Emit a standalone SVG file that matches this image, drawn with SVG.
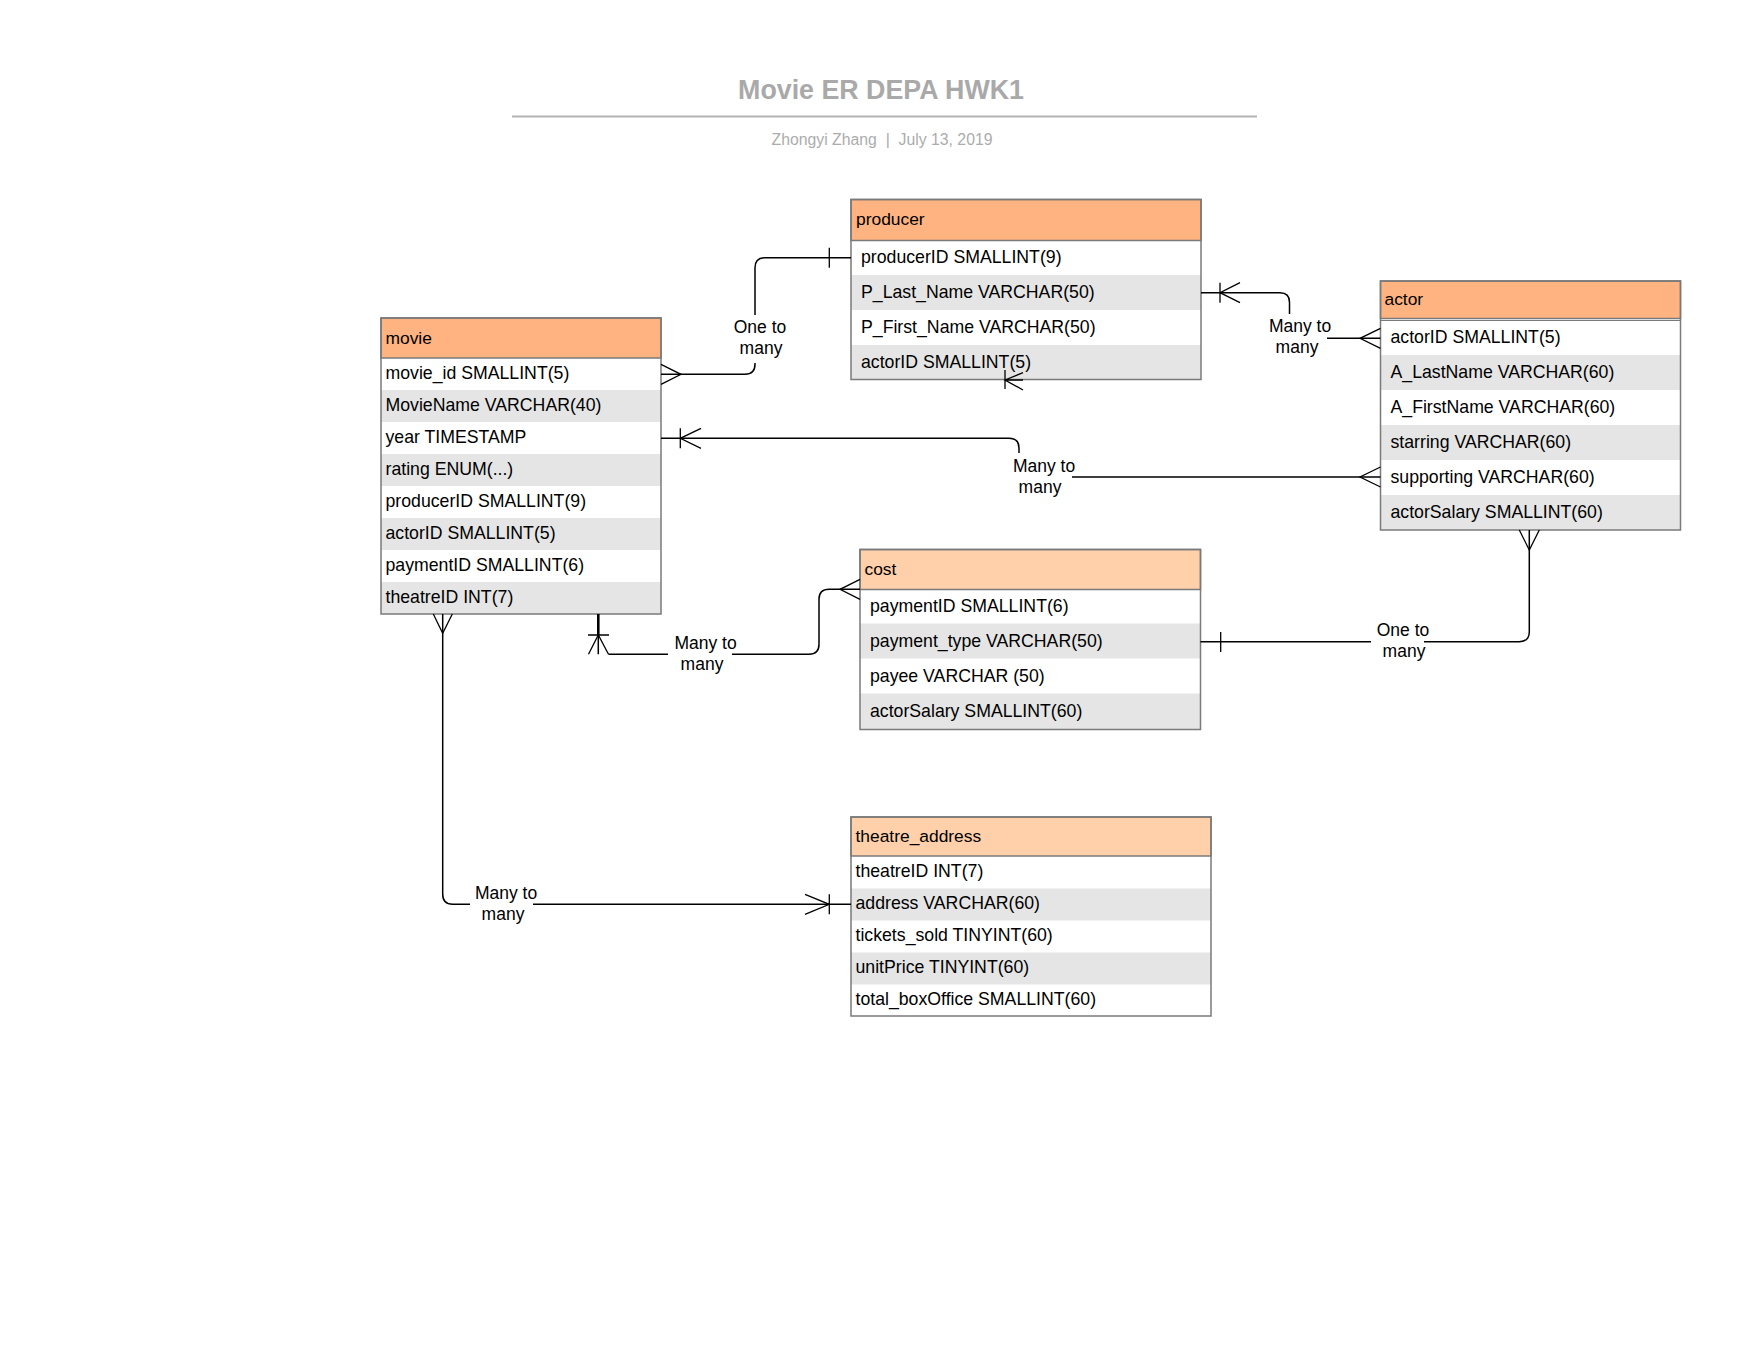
<svg xmlns="http://www.w3.org/2000/svg" width="1758" height="1358" viewBox="0 0 1758 1358">
  <style>
    text { font-family: "Liberation Sans", Arial, sans-serif; fill: #000; }
    .title { font-size: 26.8px; font-weight: bold; fill: #a9a9a9; text-anchor: middle; }
    .sub { font-size: 15.8px; fill: #acacac; text-anchor: middle; }
    .box { fill: none; stroke: #7a7a7a; stroke-width: 1.5; }
    .hdr { fill: #ffb380; stroke: #7a7a7a; stroke-width: 1.5; }
    .hdr2 { fill: #ffd0aa; stroke: #7a7a7a; stroke-width: 1.5; }
    .alt { fill: #e5e5e5; }
    .wht { fill: #ffffff; }
    .h { font-size: 17.4px; }
    .f { font-size: 17.7px; }
    .lbl { font-size: 17.5px; text-anchor: middle; }
    .bg { fill: #ffffff; }
    .ln { fill: none; stroke: #000; stroke-width: 1.5; }
    .mk { fill: none; stroke: #000; stroke-width: 1.3; }
  </style>

  <!-- page heading -->
  <g id="heading">
    <text class="title" x="881" y="99">Movie ER DEPA HWK1</text>
    <line x1="512" y1="116.5" x2="1257" y2="116.5" stroke="#b3b3b3" stroke-width="2"/>
    <text class="sub" x="882" y="145" xml:space="preserve">Zhongyi Zhang  |  July 13, 2019</text>
  </g>

  <!-- movie table -->
  <g id="movie">
    <rect class="wht" x="381" y="358" width="280" height="256"/>
    <rect class="alt" x="381" y="390" width="280" height="32"/>
    <rect class="alt" x="381" y="454" width="280" height="32"/>
    <rect class="alt" x="381" y="518" width="280" height="32"/>
    <rect class="alt" x="381" y="582" width="280" height="32"/>
    <rect class="hdr" x="381" y="318" width="280" height="40"/>
    <rect class="box" x="381" y="318" width="280" height="296"/>
    <text class="h" x="385.5" y="344">movie</text>
    <text class="f" x="385.5" y="378.5">movie_id SMALLINT(5)</text>
    <text class="f" x="385.5" y="410.5">MovieName VARCHAR(40)</text>
    <text class="f" x="385.5" y="442.5">year TIMESTAMP</text>
    <text class="f" x="385.5" y="474.5">rating ENUM(...)</text>
    <text class="f" x="385.5" y="506.5">producerID SMALLINT(9)</text>
    <text class="f" x="385.5" y="538.5">actorID SMALLINT(5)</text>
    <text class="f" x="385.5" y="570.5">paymentID SMALLINT(6)</text>
    <text class="f" x="385.5" y="602.5">theatreID INT(7)</text>
  </g>

  <!-- producer table -->
  <g id="producer">
    <rect class="wht" x="851" y="240.5" width="350" height="139"/>
    <rect class="alt" x="851" y="275" width="350" height="35"/>
    <rect class="alt" x="851" y="345" width="350" height="34.5"/>
    <rect class="hdr" x="851" y="199.5" width="350" height="41"/>
    <rect class="box" x="851" y="199.5" width="350" height="180"/>
    <text class="h" x="856" y="225">producer</text>
    <text class="f" x="861" y="262.5">producerID SMALLINT(9)</text>
    <text class="f" x="861" y="297.5">P_Last_Name VARCHAR(50)</text>
    <text class="f" x="861" y="332.5">P_First_Name VARCHAR(50)</text>
    <text class="f" x="861" y="367.5">actorID SMALLINT(5)</text>
  </g>

  <!-- actor table -->
  <g id="actor">
    <rect class="wht" x="1380.5" y="318.5" width="300" height="211.5"/>
    <rect class="alt" x="1380.5" y="355" width="300" height="35"/>
    <rect class="alt" x="1380.5" y="425" width="300" height="35"/>
    <rect class="alt" x="1380.5" y="495" width="300" height="35"/>
    <rect class="hdr" x="1380.5" y="281" width="300" height="37.5"/>
    <line x1="1380.5" y1="320.5" x2="1680.5" y2="320.5" stroke="#7a7a7a" stroke-width="1"/>
    <rect class="box" x="1380.5" y="281" width="300" height="249"/>
    <text class="h" x="1384.5" y="305">actor</text>
    <text class="f" x="1390.5" y="343">actorID SMALLINT(5)</text>
    <text class="f" x="1390.5" y="378">A_LastName VARCHAR(60)</text>
    <text class="f" x="1390.5" y="413">A_FirstName VARCHAR(60)</text>
    <text class="f" x="1390.5" y="448">starring VARCHAR(60)</text>
    <text class="f" x="1390.5" y="483">supporting VARCHAR(60)</text>
    <text class="f" x="1390.5" y="518">actorSalary SMALLINT(60)</text>
  </g>

  <!-- cost table -->
  <g id="cost">
    <rect class="wht" x="860" y="589.5" width="340.5" height="140"/>
    <rect class="alt" x="860" y="623.5" width="340.5" height="35"/>
    <rect class="alt" x="860" y="693.5" width="340.5" height="36"/>
    <rect class="hdr2" x="860" y="549.5" width="340.5" height="40"/>
    <rect class="box" x="860" y="549.5" width="340.5" height="180"/>
    <text class="h" x="864.5" y="575">cost</text>
    <text class="f" x="870" y="612">paymentID SMALLINT(6)</text>
    <text class="f" x="870" y="647">payment_type VARCHAR(50)</text>
    <text class="f" x="870" y="682">payee VARCHAR (50)</text>
    <text class="f" x="870" y="717">actorSalary SMALLINT(60)</text>
  </g>

  <!-- theatre_address table -->
  <g id="theatre_address">
    <rect class="wht" x="851" y="856" width="360" height="160"/>
    <rect class="alt" x="851" y="888.5" width="360" height="32"/>
    <rect class="alt" x="851" y="952.5" width="360" height="32"/>
    <rect class="hdr2" x="851" y="817" width="360" height="39"/>
    <rect class="box" x="851" y="817" width="360" height="199"/>
    <text class="h" x="855.5" y="842">theatre_address</text>
    <text class="f" x="855.5" y="877">theatreID INT(7)</text>
    <text class="f" x="855.5" y="909">address VARCHAR(60)</text>
    <text class="f" x="855.5" y="941">tickets_sold TINYINT(60)</text>
    <text class="f" x="855.5" y="973">unitPrice TINYINT(60)</text>
    <text class="f" x="855.5" y="1005">total_boxOffice SMALLINT(60)</text>
  </g>

  <!-- relationships -->
  <g id="connectors">
    <!-- producer to movie -->
    <path class="ln" d="M661,374.3 H745 Q755,374.3 755,364.3 V267.7 Q755,257.7 765,257.7 H851"/>
    <path class="mk" d="M661,364.3 L681,374.3 L661,384.3"/>
    <path class="mk" d="M829.3,247.7 V267.7"/>

    <!-- producer to actor -->
    <path class="ln" d="M1201,292.7 H1280 Q1289.5,292.7 1289.5,302.2 V338.3 H1380.5"/>
    <path class="mk" d="M1220,282.7 V302.7 M1240,282.7 L1220,292.7 L1240,302.7"/>
    <path class="mk" d="M1380.5,328.3 L1360,338.3 L1380.5,348.3"/>

    <!-- movie to actor -->
    <path class="ln" d="M661,438.3 H1009 Q1019,438.3 1019,448.3 V477 H1380.5"/>
    <path class="mk" d="M680.3,428.3 V448.3 M701,428.3 L680.3,438.3 L701,448.3"/>
    <path class="mk" d="M1380.5,467 L1360,477 L1380.5,487"/>

    <!-- movie to cost -->
    <path class="ln" d="M598.3,635 V654.3 M608.5,654.3 H809 Q819,654.3 819,644.3 V599.3 Q819,589.3 829,589.3 H860"/>
    <path d="M598.3,614 V635" stroke="#000" stroke-width="2.6" fill="none"/>
    <path class="mk" d="M588,635 H609 M588.5,654.3 L598.3,635 L608.5,654.3"/>
    <path class="mk" d="M860,579.3 L840,589.3 L860,599.3"/>

    <!-- cost to actor -->
    <path class="ln" d="M1200.5,641.7 H1519.3 Q1529.3,641.7 1529.3,631.7 V530"/>
    <path class="mk" d="M1220.7,632 V652"/>
    <path class="mk" d="M1519.3,530 L1529.3,550 L1539.3,530"/>

    <!-- movie to theatre_address -->
    <path class="ln" d="M442.7,614 V894.3 Q442.7,904.3 452.7,904.3 H851"/>
    <path class="mk" d="M433.3,614 L442.7,633.3 L452.3,614"/>
    <path class="mk" d="M805,894.3 L829.3,904.3 L805,914.3 M829.3,894.3 V914.3"/>

    <!-- marker on producer lower edge -->
    <path class="mk" d="M1005,370 V389 M1005,380 H1023 M1023,372.7 L1005,380 L1023,390"/>
  </g>

  <!-- relationship labels -->
  <g id="labels">
    <rect class="bg" x="733" y="315" width="54" height="48"/>
    <text class="lbl" x="760" y="333">One to</text>
    <text class="lbl" x="761" y="354">many</text>

    <rect class="bg" x="1268" y="314" width="59" height="46"/>
    <text class="lbl" x="1300" y="332">Many to</text>
    <text class="lbl" x="1297" y="353">many</text>

    <rect class="bg" x="1010" y="453" width="62" height="45"/>
    <text class="lbl" x="1044" y="472">Many to</text>
    <text class="lbl" x="1040" y="493">many</text>

    <rect class="bg" x="668" y="632" width="64" height="44"/>
    <text class="lbl" x="705.5" y="649">Many to</text>
    <text class="lbl" x="702" y="670">many</text>

    <rect class="bg" x="1371" y="620" width="53" height="42"/>
    <text class="lbl" x="1403" y="636">One to</text>
    <text class="lbl" x="1404" y="657">many</text>

    <rect class="bg" x="470" y="882" width="63" height="44"/>
    <text class="lbl" x="506" y="899">Many to</text>
    <text class="lbl" x="503" y="920">many</text>
  </g>
</svg>
